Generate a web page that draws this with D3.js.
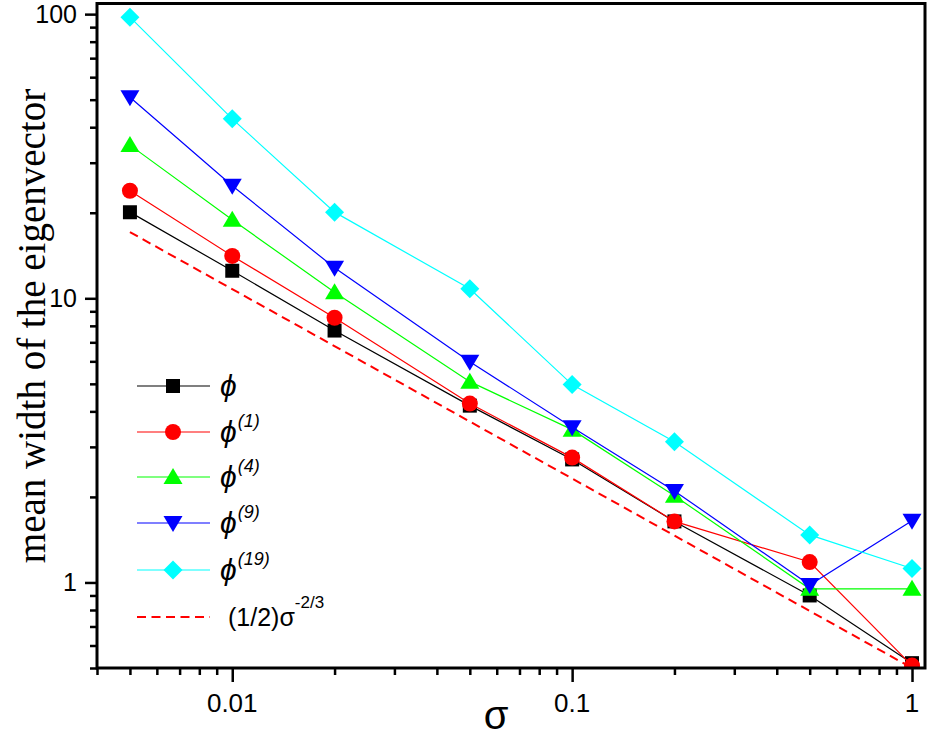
<!DOCTYPE html>
<html>
<head>
<meta charset="UTF-8">
<title></title>
<script src="https://cdn.jsdelivr.net/npm/d3@7"></script>
<style>
    body{margin:0;background:#fff;}
</style>
</head>
<body>
<div id="chart"></div>
<script>
    var sigma=[0.005,0.01,0.02,0.05,0.1,0.2,0.5,1];
    var phi0=[20.1,12.5,7.7,4.19,2.71,1.64,0.90,0.52];
    var phi1=[23.9,14.1,8.54,4.26,2.75,1.64,1.18,0.51];
    var phi4=[34.6,18.9,10.5,5.09,3.45,2.02,0.95,0.95];
    var phi9=[51,24.9,12.8,5.98,3.52,2.1,0.98,1.65];
    var phi19=[97.6,42.8,20.1,10.8,4.97,3.13,1.47,1.12];
    var fitX=[0.005,1];
    var fitY=[17.1,0.5];
    var xTicks=[0.01,0.1,1];
    var yTicks=[1,10,100];

    var series=[
        {sup:'',values:phi0,color:'#000000',symbol:'square'},
        {sup:'(1)',values:phi1,color:'#ff0000',symbol:'circle'},
        {sup:'(4)',values:phi4,color:'#00ff00',symbol:'up'},
        {sup:'(9)',values:phi9,color:'#0000ff',symbol:'down'},
        {sup:'(19)',values:phi19,color:'#00ffff',symbol:'diamond'}
    ];

    var W=930,H=738;
    var pLeft=97,pRight=925,pTop=3.5,pBottom=668;
    var svg=d3.select('#chart').append('svg')
            .attr('width',W).attr('height',H);

    var x=d3.scaleLog().domain([0.004,1.092]).range([pLeft,pRight]);
    var y=d3.scaleLog().domain([0.5,109]).range([pBottom,pTop]);

    svg.append('clipPath').attr('id','clip')
            .append('rect').attr('x',pLeft).attr('y',pTop)
            .attr('width',pRight-pLeft).attr('height',pBottom-pTop);

    function symbolPath(s){
        if(s=='square') return 'M-7,-7H7V7H-7Z';
        if(s=='up') return 'M0,-9L9.5,7H-9.5Z';
        if(s=='down') return 'M0,9L9.5,-7H-9.5Z';
        if(s=='diamond') return 'M0,-9.5L9.5,0L0,9.5L-9.5,0Z';
        return null;
    }
    function drawMarker(g,s,color,cx,cy){
        if(s=='circle'){
            g.append('circle').attr('cx',cx).attr('cy',cy).attr('r',8).attr('fill',color);
        }else{
            g.append('path').attr('d',symbolPath(s))
                    .attr('transform','translate('+cx+','+cy+')')
                    .attr('fill',color);
        }
    }

    var plot=svg.append('g').attr('clip-path','url(#clip)');
    var line=d3.line()
            .x(function(d){return x(d[0]);})
            .y(function(d){return y(d[1]);});

    series.forEach(function(s){
        var pts=sigma.map(function(v,i){return [v,s.values[i]];});
        plot.append('path').attr('d',line(pts))
                .attr('fill','none').attr('stroke',s.color).attr('stroke-width',1.2);
        pts.forEach(function(p){
            drawMarker(plot,s.symbol,s.color,x(p[0]),y(p[1]));
        });
    });
    plot.append('path')
            .attr('d',line(fitX.map(function(v,i){return [v,fitY[i]];})))
            .attr('fill','none').attr('stroke','#ff0000')
            .attr('stroke-width',2).attr('stroke-dasharray','9,5.5');

    // axes
    function logTicks(lo,hi,e0,e1){
        return d3.range(e0,e1).flatMap(function(e){
            return d3.range(1,10).map(function(m){return m*Math.pow(10,e);});
        }).filter(function(v){return v>=lo*0.9999&&v<=hi*1.0001;});
    }
    function isMajor(list,d){
        return list.some(function(t){return Math.abs(t-d)<1e-9*t;});
    }
    var xAxis=d3.axisBottom(x)
            .tickValues(logTicks(0.004,1,-3,1))
            .tickFormat('').tickSizeOuter(0);
    var gx=svg.append('g').attr('transform','translate(0,'+pBottom+')').call(xAxis);
    gx.selectAll('.tick line').attr('y2',function(d){return isMajor(xTicks,d)?14:7;});
    var yAxis=d3.axisLeft(y)
            .tickValues(logTicks(0.5,100,-1,3))
            .tickFormat('').tickSizeOuter(0);
    var gy=svg.append('g').attr('transform','translate('+pLeft+',0)').call(yAxis);
    gy.selectAll('.tick line').attr('x2',function(d){return isMajor(yTicks,d)?-12:-7;});
    svg.selectAll('.domain').remove();
    svg.selectAll('.tick line').attr('stroke','#000').attr('stroke-width',2.5);

    // frame
    svg.append('rect').attr('x',pLeft).attr('y',pTop)
            .attr('width',pRight-pLeft).attr('height',pBottom-pTop)
            .attr('fill','none').attr('stroke','#000').attr('stroke-width',3);

    svg.selectAll('.xlab').data(xTicks).enter().append('text')
            .attr('x',function(d){return x(d);}).attr('y',712)
            .attr('text-anchor','middle')
            .style('font-family','"Liberation Sans",Arial,sans-serif')
            .style('font-size','26px')
            .text(function(d){return d;});
    svg.selectAll('.ylab').data(yTicks).enter().append('text')
            .attr('x',77).attr('y',function(d){return y(d)+9;})
            .attr('text-anchor','end')
            .style('font-family','"Liberation Sans",Arial,sans-serif')
            .style('font-size','25px')
            .text(function(d){return d;});

    svg.append('text')
            .attr('x',496).attr('y',729)
            .attr('text-anchor','middle')
            .style('font-family','"Liberation Sans",Arial,sans-serif')
            .style('font-size','40px')
            .text('σ');
    svg.append('text')
            .attr('transform','translate(45,326) rotate(-90)')
            .attr('text-anchor','middle')
            .style('font-family','"Liberation Serif","Times New Roman",serif')
            .style('font-size','39px')
            .text('mean width of the eigenvector');

    // legend
    var lg=svg.append('g');
    var rowY=[386,432,477,523,570,617];
    series.forEach(function(s,i){
        var ry=rowY[i];
        lg.append('line').attr('x1',137).attr('x2',210).attr('y1',ry).attr('y2',ry)
                .attr('stroke',s.color).attr('stroke-width',1.2);
        drawMarker(lg,s.symbol,s.color,173,ry);
        var t=lg.append('text').attr('x',220).attr('y',ry+10)
                .style('font-family','"Liberation Sans","DejaVu Sans",sans-serif')
                .style('font-style','italic');
        t.append('tspan').style('font-size','30px').text('ϕ');
        if(s.sup){
            t.append('tspan').style('font-size','18px').attr('dx',1).attr('dy',-15).text(s.sup);
        }
    });
    lg.append('line').attr('x1',137).attr('x2',210).attr('y1',rowY[5]).attr('y2',rowY[5])
            .attr('stroke','#ff0000').attr('stroke-width',2).attr('stroke-dasharray','9,5.5');
    var ft=lg.append('text').attr('x',228).attr('y',rowY[5]+9)
            .style('font-family','"Liberation Sans",Arial,sans-serif');
    ft.append('tspan').style('font-size','25px').text('(1/2)σ');
    ft.append('tspan').style('font-size','17px').attr('dy',-18).text('-2/3');
</script>
</body>
</html>
